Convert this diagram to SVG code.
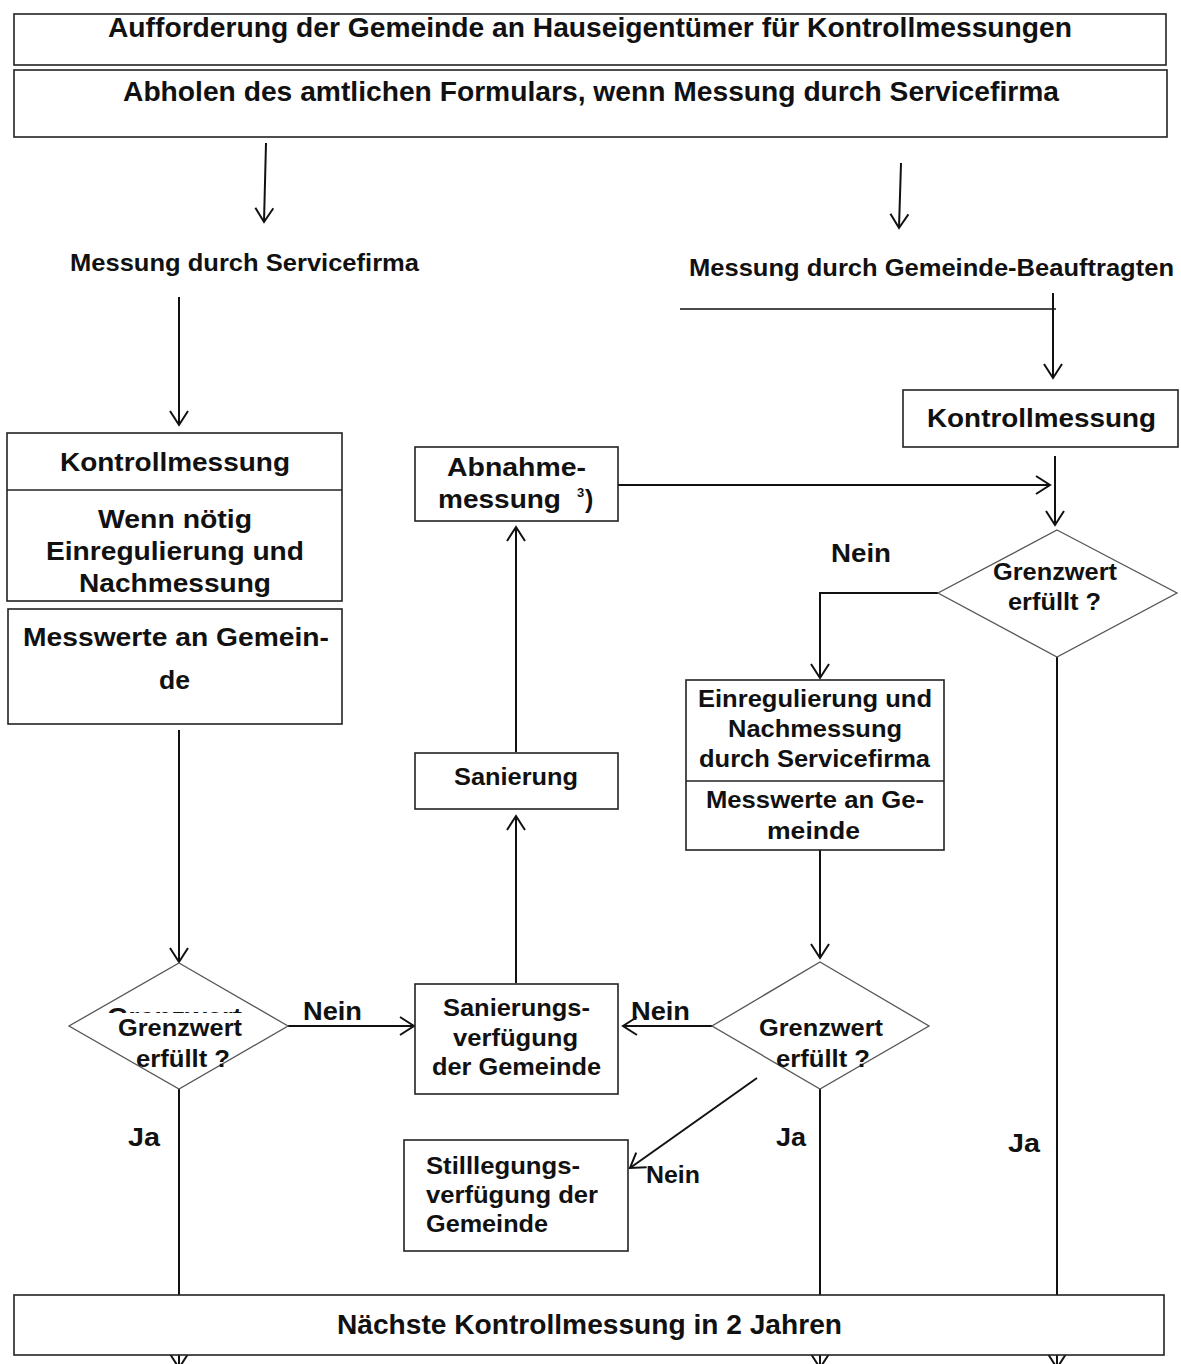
<svg xmlns="http://www.w3.org/2000/svg" width="1181" height="1364" viewBox="0 0 1181 1364">
<style>
.bx{fill:#fff;stroke:#222;stroke-width:1.6}
.dm{fill:#fff;stroke:#555;stroke-width:1.3}
.ln{fill:none;stroke:#111;stroke-width:2}
.t{font-family:"Liberation Sans",Arial,sans-serif;font-weight:bold;fill:#111}
.c{text-anchor:middle}
</style>
<defs>
<marker id="ar" markerUnits="userSpaceOnUse" markerWidth="20" markerHeight="22" refX="15" refY="10" orient="auto">
<path d="M1,1 L15,10 L1,19" fill="none" stroke="#111" stroke-width="2"/>
</marker>
<clipPath id="hid"><rect x="90" y="995" width="170" height="18"/></clipPath>
</defs>

<g id="connectors">
<line class="ln" x1="266" y1="143" x2="264" y2="222" marker-end="url(#ar)"/>
<line class="ln" x1="901" y1="163" x2="899" y2="228" marker-end="url(#ar)"/>
<line class="ln" x1="179" y1="297" x2="179" y2="425" marker-end="url(#ar)"/>
<line class="ln" x1="680" y1="309" x2="1056" y2="309" style="stroke-width:1.6"/>
<line class="ln" x1="1053" y1="293" x2="1053" y2="378" marker-end="url(#ar)"/>
<line class="ln" x1="1055" y1="456" x2="1055" y2="525" marker-end="url(#ar)"/>
<line class="ln" x1="618" y1="485" x2="1050" y2="485" marker-end="url(#ar)"/>
<polyline class="ln" points="938,593 820,593 820,678" marker-end="url(#ar)"/>
<line class="ln" x1="820" y1="850" x2="820" y2="958" marker-end="url(#ar)"/>
<line class="ln" x1="712" y1="1026" x2="623" y2="1026" marker-end="url(#ar)"/>
<line class="ln" x1="757" y1="1078" x2="630" y2="1168" marker-end="url(#ar)"/>
<line class="ln" x1="516" y1="983" x2="516" y2="816" marker-end="url(#ar)"/>
<line class="ln" x1="516" y1="752" x2="516" y2="527" marker-end="url(#ar)"/>
<line class="ln" x1="179" y1="730" x2="179" y2="962" marker-end="url(#ar)"/>
<line class="ln" x1="288" y1="1026" x2="414" y2="1026" marker-end="url(#ar)"/>
<line class="ln" x1="179" y1="1089" x2="179" y2="1295"/>
<line class="ln" x1="820" y1="1089" x2="820" y2="1295"/>
<line class="ln" x1="1057" y1="657" x2="1057" y2="1295"/>
<line class="ln" x1="179" y1="1355" x2="179" y2="1368" marker-end="url(#ar)"/>
<line class="ln" x1="820" y1="1355" x2="820" y2="1368" marker-end="url(#ar)"/>
<line class="ln" x1="1057" y1="1355" x2="1057" y2="1368" marker-end="url(#ar)"/>
</g>

<g id="labels">
<text class="t" x="70" y="271" font-size="24" textLength="349" lengthAdjust="spacingAndGlyphs">Messung durch Servicefirma</text>
<text class="t" x="689" y="276" font-size="24" textLength="485" lengthAdjust="spacingAndGlyphs">Messung durch Gemeinde-Beauftragten</text>
<text class="t" x="303" y="1020" font-size="26" textLength="59" lengthAdjust="spacingAndGlyphs">Nein</text>
<text class="t" x="631" y="1020" font-size="26" textLength="59" lengthAdjust="spacingAndGlyphs">Nein</text>
<text class="t" x="831" y="562" font-size="26" textLength="60" lengthAdjust="spacingAndGlyphs">Nein</text>
<text class="t" x="646" y="1183" font-size="24" textLength="54" lengthAdjust="spacingAndGlyphs">Nein</text>
<text class="t" x="128" y="1146" font-size="26" textLength="32" lengthAdjust="spacingAndGlyphs">Ja</text>
<text class="t" x="776" y="1146" font-size="26" textLength="30" lengthAdjust="spacingAndGlyphs">Ja</text>
<text class="t" x="1008" y="1152" font-size="26" textLength="32" lengthAdjust="spacingAndGlyphs">Ja</text>
</g>

<g id="n-aufforderung">
<rect class="bx" x="14" y="14" width="1152" height="51"/>
<text class="t" x="108" y="37" font-size="27" textLength="964" lengthAdjust="spacingAndGlyphs">Aufforderung der Gemeinde an Hauseigentümer für Kontrollmessungen</text>
</g>
<g id="n-abholen">
<rect class="bx" x="14" y="70" width="1153" height="67"/>
<text class="t" x="123" y="101" font-size="27" textLength="936" lengthAdjust="spacingAndGlyphs">Abholen des amtlichen Formulars, wenn Messung durch Servicefirma</text>
</g>

<g id="n-kontroll-rechts">
<rect class="bx" x="903" y="390" width="275" height="57"/>
<text class="t" x="927" y="427" font-size="26" textLength="229" lengthAdjust="spacingAndGlyphs">Kontrollmessung</text>
</g>

<g id="n-kontroll-links">
<rect class="bx" x="7" y="433" width="335" height="168"/>
<line x1="7" y1="490" x2="342" y2="490" stroke="#222" stroke-width="1.6"/>
<text class="t" x="60" y="471" font-size="26" textLength="230" lengthAdjust="spacingAndGlyphs">Kontrollmessung</text>
<text class="t" x="98" y="528" font-size="25" textLength="154" lengthAdjust="spacingAndGlyphs">Wenn nötig</text>
<text class="t" x="46" y="560" font-size="25" textLength="258" lengthAdjust="spacingAndGlyphs">Einregulierung und</text>
<text class="t" x="79" y="592" font-size="25" textLength="192" lengthAdjust="spacingAndGlyphs">Nachmessung</text>
</g>

<g id="n-messwerte-links">
<rect class="bx" x="8" y="609" width="334" height="115"/>
<text class="t" x="23" y="646" font-size="25" textLength="306" lengthAdjust="spacingAndGlyphs">Messwerte an Gemein-</text>
<text class="t" x="159" y="689" font-size="25" textLength="31" lengthAdjust="spacingAndGlyphs">de</text>
</g>

<g id="n-abnahme">
<rect class="bx" x="415" y="447" width="203" height="74"/>
<text class="t" x="447" y="476" font-size="25" textLength="139" lengthAdjust="spacingAndGlyphs">Abnahme-</text>
<text class="t" x="438" y="508" font-size="25" textLength="123" lengthAdjust="spacingAndGlyphs">messung</text>
<text class="t" x="577" y="497" font-size="13">3</text>
<text class="t" x="585" y="508" font-size="25">)</text>
</g>

<g id="n-sanierung">
<rect class="bx" x="415" y="753" width="203" height="56"/>
<text class="t" x="454" y="785" font-size="24" textLength="124" lengthAdjust="spacingAndGlyphs">Sanierung</text>
</g>

<g id="n-sanierungsverfuegung">
<rect class="bx" x="415" y="984" width="203" height="110"/>
<text class="t" x="443" y="1016" font-size="24" textLength="147" lengthAdjust="spacingAndGlyphs">Sanierungs-</text>
<text class="t" x="453" y="1046" font-size="24" textLength="125" lengthAdjust="spacingAndGlyphs">verfügung</text>
<text class="t" x="432" y="1075" font-size="24" textLength="169" lengthAdjust="spacingAndGlyphs">der Gemeinde</text>
</g>

<g id="n-stilllegung">
<rect class="bx" x="404" y="1140" width="224" height="111"/>
<text class="t" x="426" y="1174" font-size="24" textLength="154" lengthAdjust="spacingAndGlyphs">Stilllegungs-</text>
<text class="t" x="426" y="1203" font-size="24" textLength="172" lengthAdjust="spacingAndGlyphs">verfügung der</text>
<text class="t" x="426" y="1232" font-size="24" textLength="122" lengthAdjust="spacingAndGlyphs">Gemeinde</text>
</g>

<g id="n-einregulierung">
<rect class="bx" x="686" y="680" width="258" height="170"/>
<line x1="686" y1="781" x2="944" y2="781" stroke="#222" stroke-width="1.6"/>
<text class="t" x="698" y="707" font-size="24" textLength="234" lengthAdjust="spacingAndGlyphs">Einregulierung und</text>
<text class="t" x="728" y="737" font-size="24" textLength="174" lengthAdjust="spacingAndGlyphs">Nachmessung</text>
<text class="t" x="699" y="767" font-size="24" textLength="231" lengthAdjust="spacingAndGlyphs">durch Servicefirma</text>
<text class="t" x="706" y="808" font-size="24" textLength="218" lengthAdjust="spacingAndGlyphs">Messwerte an Ge-</text>
<text class="t" x="767" y="839" font-size="24" textLength="93" lengthAdjust="spacingAndGlyphs">meinde</text>
</g>

<g id="n-grenzwert-links">
<polygon class="dm" points="179,963 288,1026 179,1089 69,1026"/>
<text class="t" x="107" y="1026" font-size="26" textLength="135" lengthAdjust="spacingAndGlyphs" clip-path="url(#hid)">Grenzwert</text>
<text class="t" x="118" y="1036" font-size="24" textLength="124" lengthAdjust="spacingAndGlyphs">Grenzwert</text>
<text class="t" x="136" y="1067" font-size="24" textLength="94" lengthAdjust="spacingAndGlyphs">erfüllt ?</text>
</g>

<g id="n-grenzwert-mitte">
<polygon class="dm" points="820,962 929,1026 820,1089 712,1026"/>
<text class="t" x="759" y="1036" font-size="24" textLength="124" lengthAdjust="spacingAndGlyphs">Grenzwert</text>
<text class="t" x="776" y="1067" font-size="24" textLength="94" lengthAdjust="spacingAndGlyphs">erfüllt ?</text>
</g>

<g id="n-grenzwert-rechts">
<polygon class="dm" points="1057,530 1177,593 1057,657 938,593"/>
<text class="t" x="993" y="580" font-size="24" textLength="124" lengthAdjust="spacingAndGlyphs">Grenzwert</text>
<text class="t" x="1008" y="610" font-size="24" textLength="93" lengthAdjust="spacingAndGlyphs">erfüllt ?</text>
</g>

<g id="n-naechste">
<rect class="bx" x="14" y="1295" width="1150" height="60"/>
<text class="t" x="337" y="1334" font-size="27" textLength="505" lengthAdjust="spacingAndGlyphs">Nächste Kontrollmessung in 2 Jahren</text>
</g>
</svg>
